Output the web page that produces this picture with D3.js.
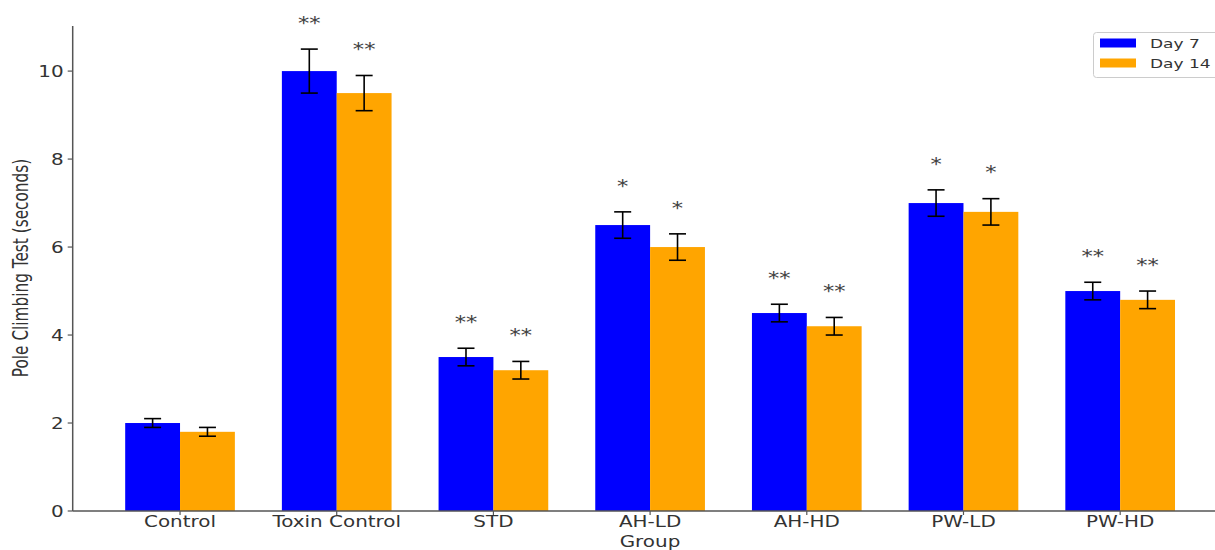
<!DOCTYPE html>
<html>
<head>
<meta charset="utf-8">
<script src="https://cdnjs.cloudflare.com/ajax/libs/d3/7.8.5/d3.min.js"></script>
<style>
  html, body { margin: 0; padding: 0; background: #fff; overflow: hidden; }
  svg { display: block; }
  text { font-family: "DejaVu Sans", sans-serif; }
</style>
</head>
<body>
<svg id="chart" width="1215" height="550"></svg>
<script>
const categories = ["Control", "Toxin Control", "STD", "AH-LD", "AH-HD", "PW-LD", "PW-HD"];
const seriesNames = ["Day 7", "Day 14"];
const day7 = [2.0, 10.0, 3.5, 6.5, 4.5, 7.0, 5.0];
const day7Err = [0.1, 0.5, 0.2, 0.3, 0.2, 0.3, 0.2];
const day14 = [1.8, 9.5, 3.2, 6.0, 4.2, 6.8, 4.8];
const day14Err = [0.1, 0.4, 0.2, 0.3, 0.2, 0.3, 0.2];
const day7Sig = ["", "**", "**", "*", "**", "*", "**"];
const day14Sig = ["", "**", "**", "*", "**", "*", "**"];
const yTicks = [0, 2, 4, 6, 8, 10];
const colors = ["#0000ff", "#ffa500"];

const SX = 1.33; // horizontal stretch of the reference image
const svg = d3.select("#chart");
const x = d3.scaleLinear().domain([-0.685, 6.685]).range([72.7, 1227.5]);
const y = d3.scaleLinear().domain([0, 11.025]).range([511, 26]);
const barW = x(0.35) - x(0);

function stext(g, tx, ty, str, opts) {
  const t = g.append("text")
    .attr("transform", `translate(${tx},${ty}) scale(${SX},1)` + (opts.rotate ? ` rotate(${opts.rotate})` : ""))
    .attr("text-anchor", opts.anchor || "middle")
    .attr("font-size", opts.size)
    .attr("fill", opts.fill || "#333")
    .text(str);
  return t;
}

const series = [
  {vals: day7, errs: day7Err, sig: day7Sig, off: -0.175, color: colors[0]},
  {vals: day14, errs: day14Err, sig: day14Sig, off: 0.175, color: colors[1]}
];

// bars
series.forEach(s => {
  svg.append("g").selectAll("rect").data(s.vals).join("rect")
    .attr("x", (d, i) => x(i + s.off) - barW / 2)
    .attr("width", barW)
    .attr("y", d => y(d))
    .attr("height", d => y(0) - y(d))
    .attr("fill", s.color);
});

// error bars
series.forEach(s => {
  const g = svg.append("g").attr("stroke", "#000").attr("stroke-width", 1.6);
  s.vals.forEach((v, i) => {
    const cx = x(i + s.off);
    const e = s.errs[i];
    g.append("line").attr("x1", cx).attr("x2", cx).attr("y1", y(v - e)).attr("y2", y(v + e));
    g.append("line").attr("x1", cx - 8.5).attr("x2", cx + 8.5).attr("y1", y(v - e)).attr("y2", y(v - e));
    g.append("line").attr("x1", cx - 8.5).attr("x2", cx + 8.5).attr("y1", y(v + e)).attr("y2", y(v + e));
  });
});

// significance stars
series.forEach(s => {
  const g = svg.append("g");
  s.vals.forEach((v, i) => {
    if (!s.sig[i]) return;
    stext(g, x(i + s.off), y(v + s.errs[i] + 0.46), s.sig[i], {size: 17, fill: "#444"});
  });
});

// axes spines
svg.append("line").attr("x1", x.range()[0]).attr("x2", x.range()[0]).attr("y1", y.range()[1]).attr("y2", y(0))
  .attr("stroke", "#555").attr("stroke-width", 1.5);
svg.append("line").attr("x1", x.range()[0]).attr("x2", x.range()[1]).attr("y1", y(0)).attr("y2", y(0))
  .attr("stroke", "#555").attr("stroke-width", 1.5);

// y ticks
const yg = svg.append("g");
yTicks.forEach(t => {
  yg.append("line").attr("x1", x.range()[0] - 5).attr("x2", x.range()[0]).attr("y1", y(t)).attr("y2", y(t))
    .attr("stroke", "#555").attr("stroke-width", 1.2);
  stext(yg, x.range()[0] - 9, y(t) + 5.5, String(t), {size: 15, anchor: "end"});
});

// x ticks
const xg = svg.append("g");
categories.forEach((c, i) => {
  xg.append("line").attr("x1", x(i)).attr("x2", x(i)).attr("y1", y(0)).attr("y2", y(0) + 4)
    .attr("stroke", "#555").attr("stroke-width", 1.2);
  stext(xg, x(i), 527, c, {size: 15});
});

// axis labels
stext(svg, 650, 547, "Group", {size: 15});
stext(svg, 28, 268, "Pole Climbing Test (seconds)", {size: 15.3, rotate: -90});

// legend
const lg = svg.append("g");
lg.append("rect").attr("x", 1093.5).attr("y", 32.5).attr("width", 130).attr("height", 45).attr("rx", 3)
  .attr("fill", "#fff").attr("stroke", "#ccc").attr("stroke-width", 1);
seriesNames.forEach((n, i) => {
  const cy = 43 + i * 20;
  lg.append("rect").attr("x", 1100).attr("y", cy - 4.5).attr("width", 36).attr("height", 9).attr("fill", colors[i]);
  stext(lg, 1150, cy + 5, n, {size: 12.8, anchor: "start"});
});
</script>
</body>
</html>
